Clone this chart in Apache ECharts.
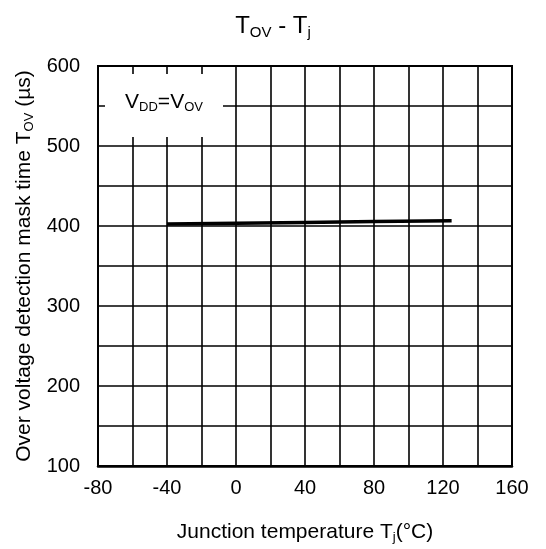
<!DOCTYPE html>
<html><head><meta charset="utf-8">
<script src="https://cdn.jsdelivr.net/npm/echarts@6/dist/echarts.min.js"></script>
<style>html,body{margin:0;padding:0;background:#fff}#c{width:546px;height:549px}</style>
</head><body><div id="c"></div>
<script>
const temps = [-40, 0, 40, 80, 125];
const maskTime = [402.5, 403.5, 404.5, 405.5, 406.5];
const xTicks = [-80, -40, 0, 40, 80, 120, 160];
const yTicks = [100, 200, 300, 400, 500, 600];

const FONT = 'Liberation Sans, Arial, sans-serif';
const chart = echarts.init(document.getElementById('c'));
chart.setOption({
  backgroundColor: '#fff',
  animation: false,
  title: {
    text: 'T{sub|OV} - T{sub|j}',
    left: 'center', top: 8,
    textStyle: {
      fontFamily: FONT, fontSize: 24, fontWeight: 'normal', color: '#000',
      rich: { sub: { fontFamily: FONT, fontSize: 15, color: '#000', padding: [12, 0, 0, 0] } }
    }
  },
  grid: { left: 98, right: 34, top: 66, bottom: 83, show: true, borderColor: '#000', borderWidth: 2, z: 3 },
  xAxis: {
    type: 'value', min: -80, max: 160, interval: 20,
    name: 'Junction temperature T{sub|j}(°C)', nameLocation: 'middle', nameGap: 54,
    nameTextStyle: {
      fontFamily: FONT, fontSize: 21, color: '#000',
      rich: { sub: { fontFamily: FONT, fontSize: 13, color: '#000', padding: [11, 0, 0, 0] } }
    },
    axisLine: { show: true, onZero: false, lineStyle: { color: '#000', width: 2.5 } },
    axisTick: { show: false },
    splitLine: { show: true, lineStyle: { color: '#000', width: 1.6 } },
    axisLabel: {
      fontFamily: FONT, fontSize: 20, color: '#000', margin: 12,
      formatter: v => (xTicks.indexOf(v) >= 0 ? String(v) : '')
    }
  },
  yAxis: {
    type: 'value', min: 100, max: 600, interval: 50,
    name: 'Over voltage detection mask time T{sub|OV} (µs)', nameLocation: 'middle', nameGap: 62,
    nameTextStyle: {
      fontFamily: FONT, fontSize: 21, color: '#000',
      rich: { sub: { fontFamily: FONT, fontSize: 13, color: '#000', padding: [11, 0, 0, 0] } }
    },
    axisLine: { show: true, onZero: false, lineStyle: { color: '#000', width: 2 } },
    axisTick: { show: false },
    splitLine: { show: true, lineStyle: { color: '#000', width: 1.6 } },
    axisLabel: {
      fontFamily: FONT, fontSize: 20, color: '#000', margin: 18,
      formatter: v => (yTicks.indexOf(v) >= 0 ? String(v) : '')
    }
  },
  graphic: [
    { type: 'rect', shape: { x: 105, y: 74, width: 118, height: 63 }, style: { fill: '#fff' }, z: 10 },
    { type: 'text', x: 164, y: 102, z: 11,
      style: {
        text: 'V{sub|DD}=V{sub|OV}', align: 'center', verticalAlign: 'middle',
        fontFamily: FONT, fontSize: 21, fill: '#000',
        rich: { sub: { fontFamily: FONT, fontSize: 13, fill: '#000', padding: [11, 0, 0, 0] } }
      } }
  ],
  series: [{
    type: 'line', data: temps.map((t, i) => [t, maskTime[i]]),
    showSymbol: false, lineStyle: { color: '#000', width: 3.5 }, z: 5
  }]
});
</script></body></html>
